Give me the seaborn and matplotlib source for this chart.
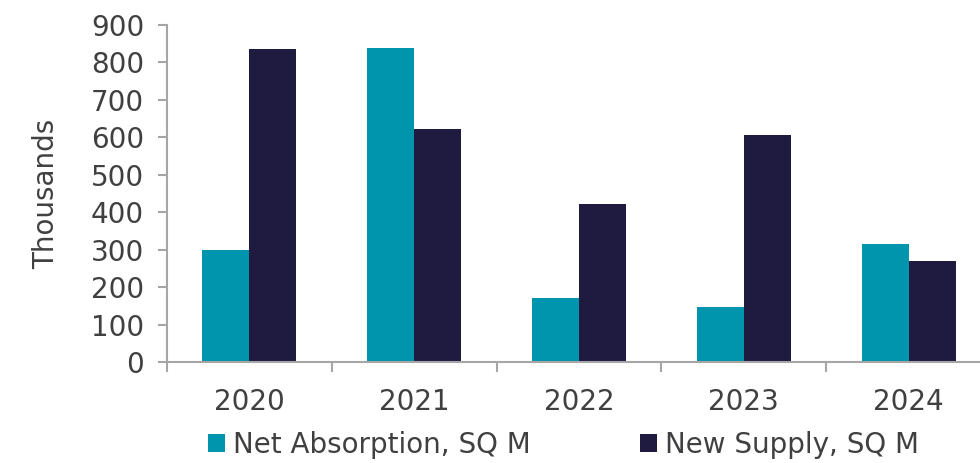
import matplotlib
matplotlib.use("Agg")
import matplotlib.pyplot as plt
import seaborn as sns
import pandas as pd
import numpy as np

years = ["2020", "2021", "2022", "2023", "2024"]
net_absorption = [299, 838, 172, 146, 316]
new_supply = [836, 622, 423, 605, 271]
series_names = ["Net Absorption, SQ M", "New Supply, SQ M"]
colors = ["#0095AD", "#1F1A3F"]
yticks = [0, 100, 200, 300, 400, 500, 600, 700, 800, 900]

df = pd.DataFrame({
    "Year": years * 2,
    "Value": net_absorption + new_supply,
    "Series": [series_names[0]] * len(years) + [series_names[1]] * len(years),
})

sns.set_theme(style="white")
plt.rcParams["font.family"] = ["DejaVu Sans"]
text_color = "#404040"
spine_color = "#A6A6A6"

fig = plt.figure(figsize=(9.8, 4.63), dpi=100)
ax = fig.add_axes([167 / 980, 1 - 362 / 463, (991 - 167) / 980, (362 - 25) / 463])

sns.barplot(data=df, x="Year", y="Value", hue="Series", palette=colors,
            width=0.57, gap=0, saturation=1, ax=ax, legend=True, linewidth=0)

ax.set_ylim(0, 900)
ax.set_xlim(-0.5, len(years) - 0.5)
ax.set_yticks(yticks)
ax.set_yticklabels([str(v) for v in yticks])
ax.set_xlabel("")
ax.set_ylabel("Thousands", fontsize=20, color=text_color, labelpad=22)

for s in ["top", "right"]:
    ax.spines[s].set_visible(False)
for s in ["left", "bottom"]:
    ax.spines[s].set_color(spine_color)
    ax.spines[s].set_linewidth(1.5)

ax.tick_params(axis="y", which="major", length=6.5, width=1.5, color=spine_color,
               labelsize=20, labelcolor=text_color, pad=10, left=True)
ax.tick_params(axis="x", which="major", length=0, labelsize=20,
               labelcolor=text_color, pad=19)
ax.set_xticks(np.arange(-0.5, len(years), 1.0), minor=True)
ax.tick_params(axis="x", which="minor", length=7, width=1.5, color=spine_color, bottom=True)

handles, labels = ax.get_legend_handles_labels()
ax.get_legend().remove()
leg = fig.legend(handles, labels, loc="center left",
                 bbox_to_anchor=(208 / 980, 1 - 445 / 463), ncol=2, frameon=False,
                 fontsize=20, handlelength=0.6, handleheight=0.6, handletextpad=0.3,
                 columnspacing=3.95, borderpad=0, borderaxespad=0)
for t in leg.get_texts():
    t.set_color(text_color)

fig.savefig("out.png", dpi=100)
